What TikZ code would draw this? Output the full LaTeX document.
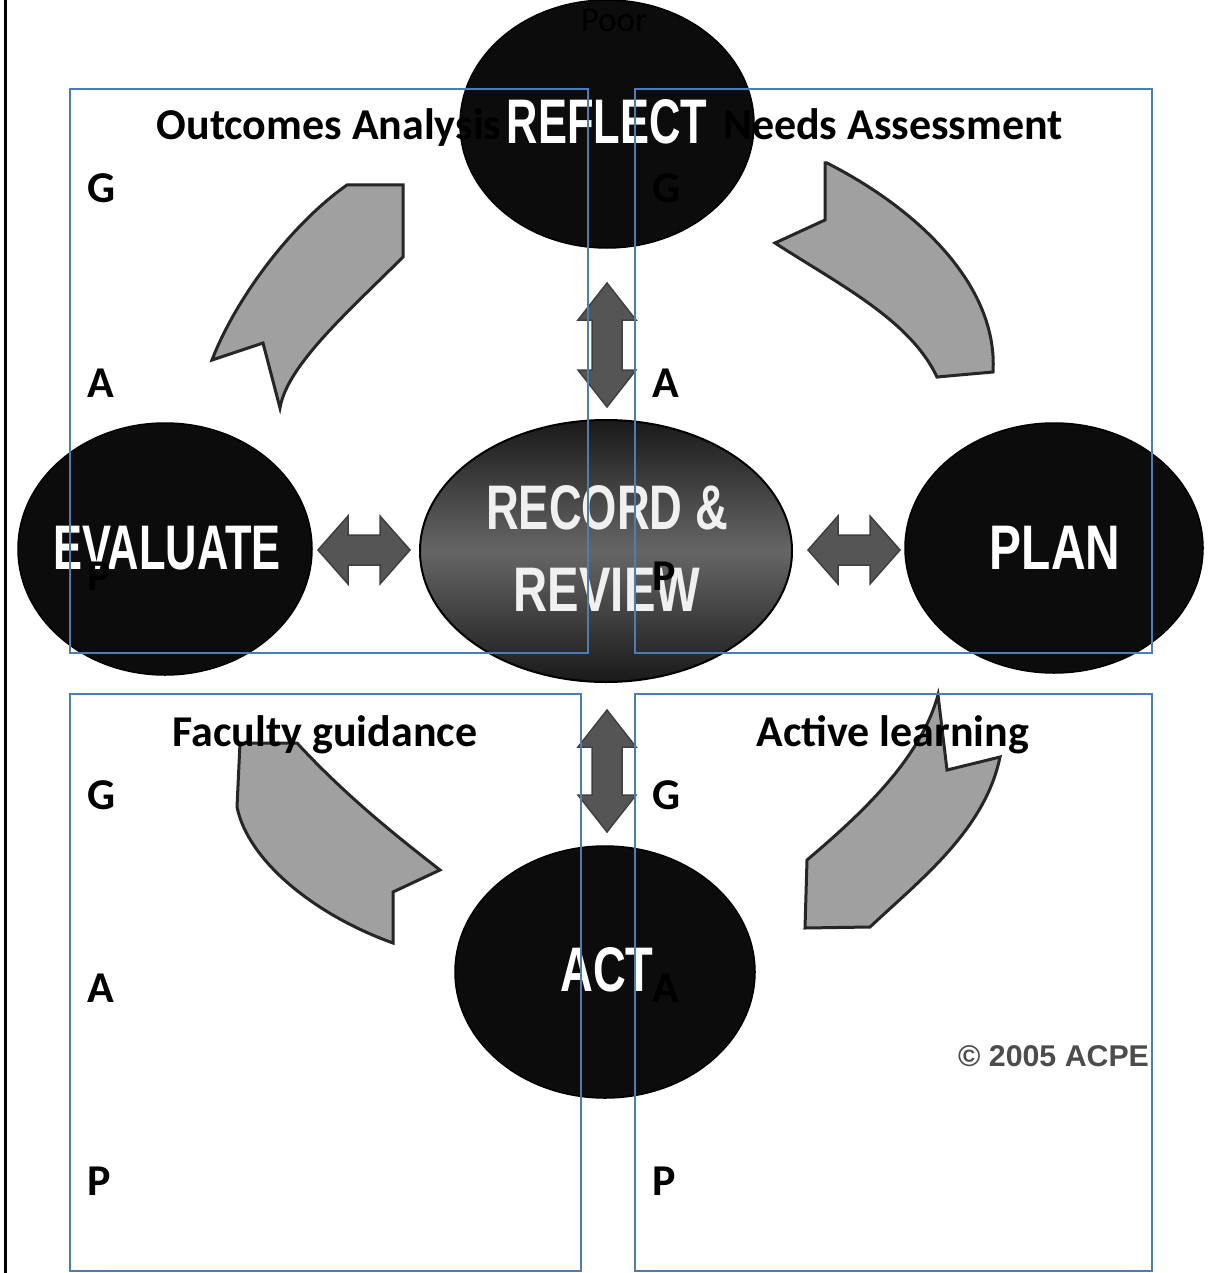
\documentclass[tikz,border=0pt]{standalone}
\usepackage{fontspec}
\setmainfont{Carlito}
\newfontfamily\capsfont{Liberation Sans}
\usetikzlibrary{shapes.geometric,calc}
\definecolor{boxblue}{RGB}{74,126,187}
\definecolor{circfill}{RGB}{12,12,12}
\definecolor{arrfill}{RGB}{160,160,160}
\definecolor{dblfill}{RGB}{85,85,85}
\newcommand\mydblarrow[5]{%
 \coordinate (dbA) at ($(#1)!#3!(#2)$);
 \coordinate (dbB) at ($(#2)!#3!(#1)$);
 \filldraw[dblarr] (#1) -- ($(dbA)!#4!90:(#2)$) -- ($(dbA)!#5!90:(#2)$)
   -- ($(dbB)!#5!-90:(#1)$) -- ($(dbB)!#4!-90:(#1)$) -- (#2)
   -- ($(dbB)!#4!90:(#1)$) -- ($(dbB)!#5!90:(#1)$)
   -- ($(dbA)!#5!-90:(#2)$) -- ($(dbA)!#4!-90:(#2)$) -- cycle;}
\tikzset{
  ell/.style={ellipse, fill=circfill, draw=black, line width=1.5pt, inner sep=0pt, outer sep=0pt},
  circtxt/.style={font=\capsfont\bfseries\fontsize{63}{82}\selectfont, text=white, align=center, inner sep=0pt},
  blkarr/.style={fill=arrfill, draw=black!85, line width=3pt, line join=miter},
  dblarr/.style={fill=dblfill, draw=black!75, line width=1.5pt},
  box/.style={draw=boxblue, line width=2pt, rectangle, inner sep=0pt, outer sep=0pt},
  lbl/.style={font=\bfseries\fontsize{44}{50}\selectfont, inner sep=0pt, text=black},
}
\begin{document}
\begin{tikzpicture}[x=1pt,y=-1pt]
\useasboundingbox (0,0) rectangle (1210,1273);
\fill[white] (0,0) rectangle (1210,1273);
\draw[line width=3pt] (5,0) -- (5,1273);

% circles
\node[ell, minimum width=294pt, minimum height=248pt] (reflect) at (607,124) {};
\node[ell, minimum width=294pt, minimum height=252pt] (evaluate) at (165,549) {};
\node[ell, minimum width=298pt, minimum height=250pt] (plan) at (1054,548) {};
\node[ell, minimum width=300pt, minimum height=252pt] (act) at (605,972) {};
\coordinate (recc) at (606,551);
\shade[top color=black!90, bottom color=black!90, middle color=black!60, draw=black, line width=2pt]
  (recc) ellipse [x radius=186pt, y radius=131pt];

\node[circtxt] (reflectT) at (607,122) {\scalebox{0.69}[1]{REFLECT}};
\node[circtxt] (evaluateT) at (167,548) {\scalebox{0.69}[1]{EVALUATE}};
\node[circtxt] (planT) at (1055,548) {\scalebox{0.76}[1]{PLAN}};
\node[circtxt] (actT) at (607,970) {\scalebox{0.72}[1]{ACT}};
\node[circtxt, text=gray!12] (record) at (607,548)
  {\scalebox{0.72}[1]{RECORD \&}\\\scalebox{0.75}[1]{REVIEW}};

% curved block arrows
\filldraw[blkarr] (347,185) -- (403,185) -- (403,257) .. controls (350,310) and (287,365) .. (280,408)
  -- (263,343) -- (212,360) .. controls (235,300) and (290,225) .. (347,185) -- cycle;
\filldraw[blkarr] (825,163) -- (825,220) -- (775,243) .. controls (840,285) and (910,320) .. (937,377)
  -- (993,372) .. controls (998,290) and (925,213) .. (827,163) -- cycle;
\filldraw[blkarr] (240,743) -- (297,743) .. controls (345,795) and (395,835) .. (440,870)
  -- (393,892) -- (393,943) .. controls (315,915) and (248,861) .. (237,807) -- cycle;
\filldraw[blkarr] (938,695) -- (947,770) -- (1000,757) .. controls (985,830) and (920,880) .. (870,927)
  -- (805,928) -- (807,860) .. controls (860,815) and (920,760) .. (938,695) -- cycle;

% double arrows
\coordinate (vt1) at (607,283); \coordinate (vt2) at (607,407);
\mydblarrow{vt1}{vt2}{37pt}{29pt}{15pt}
\coordinate (hl1) at (318,550); \coordinate (hl2) at (410,550);
\mydblarrow{hl1}{hl2}{30pt}{34pt}{15pt}
\coordinate (hr1) at (808,550); \coordinate (hr2) at (900,550);
\mydblarrow{hr1}{hr2}{30pt}{34pt}{15pt}
\coordinate (vb1) at (607,710); \coordinate (vb2) at (607,832);
\mydblarrow{vb1}{vb2}{37pt}{29pt}{15pt}

% copyright
\node[font=\capsfont\bfseries\fontsize{30}{34}\selectfont, text=black!70, anchor=base west, inner sep=0pt] (copy) at (958,1066) {\scalebox{1.01}[1]{© 2005 ACPE}};

% texts
\node[font=\fontsize{35}{40}\selectfont, anchor=base, inner sep=0pt] (poor) at (614,32) {Poor};
\node[lbl, anchor=base] (t1) at (329,140) {Outcomes Analysis};
\node[lbl, anchor=base] (t2) at (893,140) {Needs Assessment};
\node[lbl, anchor=base] (t3) at (325,746) {Faculty guidance};
\node[lbl, anchor=base] (t4) at (893,746) {Active learning};

\node[lbl, anchor=base west] (g1) at (87,203) {G};
\node[lbl, anchor=base west] (a1) at (87,397) {A};
\node[lbl, anchor=base west] (p1) at (87,590) {P};
\node[lbl, anchor=base west] (g2) at (652,203) {G};
\node[lbl, anchor=base west] (a2) at (652,397) {A};
\node[lbl, anchor=base west] (p2) at (652,590) {P};
\node[lbl, anchor=base west] (g3) at (87,809) {G};
\node[lbl, anchor=base west] (a3) at (87,1002) {A};
\node[lbl, anchor=base west] (p3) at (87,1195) {P};
\node[lbl, anchor=base west] (g4) at (652,809) {G};
\node[lbl, anchor=base west] (a4) at (652,1002) {A};
\node[lbl, anchor=base west] (p4) at (652,1195) {P};

% blue boxes
\node[box, minimum width=518pt, minimum height=564pt] (boxTL) at (329,371) {};
\node[box, minimum width=517pt, minimum height=564pt] (boxTR) at (893.5,371) {};
\node[box, minimum width=511pt, minimum height=577pt] (boxBL) at (325.5,982.5) {};
\node[box, minimum width=517pt, minimum height=577pt] (boxBR) at (893.5,982.5) {};
\end{tikzpicture}
\end{document}
